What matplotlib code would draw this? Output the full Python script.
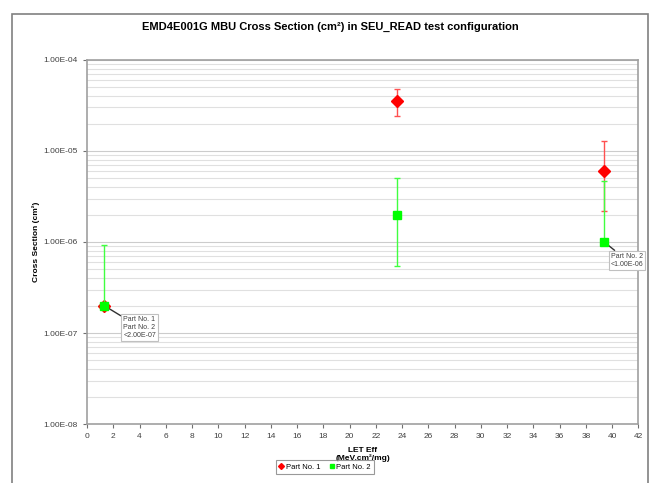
import matplotlib.pyplot as plt
from matplotlib.patches import Rectangle
from matplotlib.lines import Line2D
from matplotlib.ticker import FixedLocator, FuncFormatter, NullFormatter, LogLocator

plt.rcParams['font.family'] = ['Liberation Sans', 'DejaVu Sans']

# ===== DATA =====
part1_let = [1.3, 23.6, 39.4]
part1_xs = [2.0e-07, 3.5e-05, 6.0e-06]
part1_err_low = [0.0, 1.1e-05, 3.8e-06]
part1_err_high = [0.0, 1.3e-05, 7.0e-06]

part2_let = [1.3, 23.6, 39.4]
part2_xs = [2.0e-07, 2.0e-06, 1.0e-06]
part2_err_low = [0.0, 1.45e-06, 0.0]
part2_err_high = [7.2e-07, 3.0e-06, 3.7e-06]

y_ticks = [1e-8, 1e-7, 1e-6, 1e-5, 1e-4]
x_ticks = list(range(0, 43, 2))

red = "#ff0000"
green = "#00ff00"

# ===== FIGURE =====
fig = plt.figure(figsize=(6.5, 4.83), dpi=100)
ax = fig.add_axes([0.134, 0.122, 0.848, 0.754])

# outer chart frame
fig.patches.append(Rectangle((12 / 650, -0.05), (648 - 12) / 650, 1.05 - 14 / 483,
                             transform=fig.transFigure, fill=False,
                             edgecolor="#808080", linewidth=1.2))

ax.set_yscale("log")
ax.set_ylim(1e-8, 1e-4)
ax.set_xlim(0, 42)

# gridlines
ax.yaxis.set_major_locator(FixedLocator(y_ticks))
ax.yaxis.set_minor_locator(LogLocator(base=10, subs=range(2, 10), numticks=20))
ax.yaxis.set_minor_formatter(NullFormatter())
ax.yaxis.set_major_formatter(FuncFormatter(lambda v, p: "%.2E" % v))
ax.grid(True, which="major", axis="y", color="#cccccc", linewidth=0.8)
ax.grid(True, which="minor", axis="y", color="#e0e0e0", linewidth=0.8)
ax.tick_params(axis="y", which="minor", length=0)
ax.set_axisbelow(True)

ax.set_xticks(x_ticks)

for s in ax.spines.values():
    s.set_color("#a0a0a0")
    s.set_linewidth(1.2)
ax.tick_params(axis="both", which="major", labelsize=6, colors="#707070",
               labelcolor="#404040", length=3, width=0.8)

# ===== DATA SERIES =====
ax.errorbar(part1_let, part1_xs, yerr=[part1_err_low, part1_err_high],
            fmt="D", color=red, ecolor="#ff5050", markersize=6, elinewidth=1,
            capsize=2, capthick=1, zorder=3)
ax.errorbar(part2_let, part2_xs, yerr=[part2_err_low, part2_err_high],
            fmt="s", color=green, ecolor="#40ff40", markersize=6, elinewidth=1,
            capsize=2, capthick=1, zorder=4)

# annotations
box = dict(boxstyle="square,pad=0.3", fc="white", ec="#c0c0c0", lw=0.8)
ax.annotate("Part No. 1\nPart No. 2\n<2.00E-07", xy=(part2_let[0], part2_xs[0]),
            xytext=(2.75, 1.55e-07), fontsize=5, color="#404040", va="top",
            bbox=box, arrowprops=dict(arrowstyle="-", color="#303030", lw=1,
                                      shrinkA=0, shrinkB=2))
ax.annotate("Part No. 2\n<1.00E-06", xy=(part2_let[2], part2_xs[2]),
            xytext=(39.9, 7.6e-07), fontsize=5, color="#404040", va="top",
            bbox=box, arrowprops=dict(arrowstyle="-", color="#303030", lw=1,
                                      shrinkA=0, shrinkB=2))

# ===== LABELS =====
fig.text(0.508, 1 - 27 / 483, "EMD4E001G MBU Cross Section (cm²) in SEU_READ test configuration",
         fontsize=8, fontweight="bold", ha="center", va="center")
ax.set_ylabel("Cross Section (cm²)", fontsize=6, fontweight="bold", labelpad=3)
ax.set_xlabel("LET Eff\n(MeV.cm²/mg)", fontsize=6, fontweight="bold", labelpad=5,
              linespacing=1.0)

handles = [Line2D([], [], marker="D", color=red, linestyle="none", markersize=3),
           Line2D([], [], marker="s", color=green, linestyle="none", markersize=3.5)]
leg = fig.legend(handles, ["Part No. 1", "Part No. 2"], loc="center",
                 bbox_to_anchor=(0.5, 0.033), ncol=2, fontsize=5.5,
                 frameon=True, fancybox=False, edgecolor="#808080",
                 handlelength=0.6, handletextpad=0.3, columnspacing=1.2,
                 borderpad=0.4)
leg.get_frame().set_linewidth(0.8)

fig.savefig("out.png", dpi=100)
